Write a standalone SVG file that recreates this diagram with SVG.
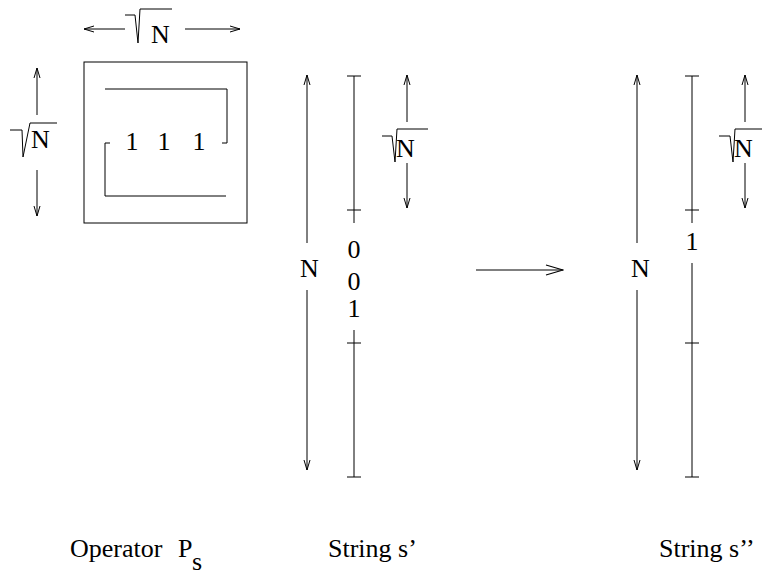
<svg xmlns="http://www.w3.org/2000/svg" width="762" height="577" viewBox="0 0 762 577">
<style>
  .ln { stroke:#000; stroke-width:1; fill:none; }
  .t { font-family:"Liberation Serif","Times New Roman",serif; font-size:26px; fill:#000; }
  .m { text-anchor:middle; }
</style>
<defs>
  <marker id="ah" markerUnits="userSpaceOnUse" markerWidth="12" markerHeight="8" viewBox="-11 -4 12 8" refX="0" refY="0" orient="auto">
    <path d="M-10,-3 L0,0 L-10,3" fill="none" stroke="#000" stroke-width="1"/>
  </marker>
  <marker id="ahb" markerUnits="userSpaceOnUse" markerWidth="20" markerHeight="12" viewBox="-19 -6 20 12" refX="0" refY="0" orient="auto">
    <path d="M-17,-5 L0,0 L-17,5" fill="none" stroke="#000" stroke-width="1.2"/>
  </marker>
</defs>

<g id="operator">
  <rect class="ln" x="84" y="62" width="163" height="161"/>
  <path class="ln" d="M105,89 H227 V143 H222"/>
  <path class="ln" d="M110,143 H105 V196 H226"/>
  <text class="t m" x="132" y="150">1</text>
  <text class="t m" x="164" y="150">1</text>
  <text class="t m" x="199" y="150">1</text>
  <path class="ln" d="M125,15 H135 L138,43 L140,9 H172"/>
  <text class="t" x="151" y="43">N</text>
  <path class="ln" d="M10,130 H22 L23,157 L30,123 H57"/>
  <text class="t" x="31" y="148">N</text>
  <text class="t" x="70" y="557">Operator</text>
  <text class="t" x="178" y="557">P</text>
  <text class="t" x="192" y="570">s</text>
</g>

<g id="string1">
  <text class="t m" x="309.5" y="277">N</text>
  <path class="ln" d="M354,76 V223 M347,76 H361 M347,210 H361"/>
  <path class="ln" d="M354,330 V477 M347,343 H361 M347,477 H361"/>
  <text class="t m" x="354" y="258">0</text>
  <text class="t m" x="354" y="290">0</text>
  <text class="t m" x="354" y="317">1</text>
  <path class="ln" d="M382,136 H392 L395,162 L397,129 H428"/>
  <text class="t" x="396" y="157">N</text>
  <text class="t" x="328" y="557">String s’</text>
</g>

<g id="string2">
  <text class="t m" x="640.5" y="277">N</text>
  <path class="ln" d="M692,76 V223 M685,76 H699 M685,210 H699"/>
  <path class="ln" d="M692,263 V477 M685,343 H699 M685,477 H699"/>
  <text class="t m" x="692" y="250">1</text>
  <path class="ln" d="M719,136 H730 L733,162 L735,129 H762"/>
  <text class="t" x="734" y="157">N</text>
  <text class="t" x="659" y="557">String s’’</text>
</g>

<g id="connectors">
  <line class="ln" x1="125" y1="29" x2="84" y2="29" marker-end="url(#ah)"/>
  <line class="ln" x1="185" y1="29" x2="240" y2="29" marker-end="url(#ah)"/>
  <line class="ln" x1="37" y1="115" x2="37" y2="68" marker-end="url(#ah)"/>
  <line class="ln" x1="37" y1="170" x2="37" y2="216" marker-end="url(#ah)"/>
  <line class="ln" x1="307" y1="243" x2="307" y2="75" marker-end="url(#ah)"/>
  <line class="ln" x1="307" y1="290" x2="307" y2="470" marker-end="url(#ah)"/>
  <line class="ln" x1="407" y1="122" x2="407" y2="75" marker-end="url(#ah)"/>
  <line class="ln" x1="407" y1="163" x2="407" y2="208" marker-end="url(#ah)"/>
  <line class="ln" x1="637" y1="243" x2="637" y2="75" marker-end="url(#ah)"/>
  <line class="ln" x1="637" y1="290" x2="637" y2="470" marker-end="url(#ah)"/>
  <line class="ln" x1="745" y1="122" x2="745" y2="75" marker-end="url(#ah)"/>
  <line class="ln" x1="745" y1="163" x2="745" y2="208" marker-end="url(#ah)"/>
  <line class="ln" x1="476" y1="270" x2="563" y2="270" marker-end="url(#ahb)" stroke-width="1.5"/>
</g>
</svg>
